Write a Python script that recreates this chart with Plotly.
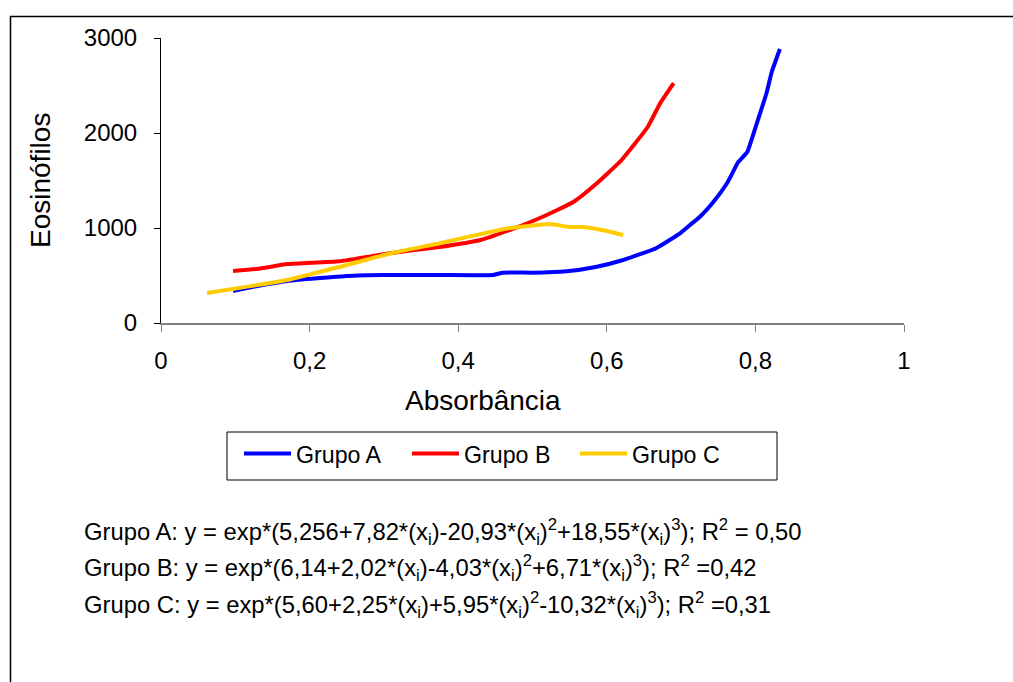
import plotly.graph_objects as go

# ---- data ----
a_x = [0.097, 0.13, 0.17, 0.21, 0.264, 0.30, 0.375, 0.447, 0.46, 0.50, 0.546, 0.585,
       0.622, 0.667, 0.699, 0.712, 0.725, 0.745, 0.762, 0.777, 0.789, 0.802, 0.815, 0.822, 0.833]
a_y = [337, 390, 442, 470, 500, 505, 505, 505, 530, 530, 545, 590,
       663, 790, 947, 1032, 1116, 1290, 1474, 1695, 1800, 2105, 2421, 2642, 2884]

b_x = [0.097, 0.13, 0.17, 0.24, 0.308, 0.375, 0.43, 0.47, 0.51, 0.555, 0.587, 0.62, 0.655, 0.672, 0.69]
b_y = [547, 570, 620, 650, 735, 800, 874, 980, 1105, 1274, 1474, 1716, 2063, 2316, 2526]

c_x = [0.062, 0.17, 0.24, 0.31, 0.375, 0.443, 0.47, 0.524, 0.55, 0.568, 0.60, 0.622]
c_y = [316, 453, 590, 735, 840, 958, 1000, 1042, 1010, 1010, 968, 926]

series_names = ["Grupo A", "Grupo B", "Grupo C"]
series_colors = ["#0000FF", "#FF0000", "#FFCC00"]

x_tickvals = [0, 0.2, 0.4, 0.6, 0.8, 1]
x_ticktext = ["0", "0,2", "0,4", "0,6", "0,8", "1"]
y_tickvals = [0, 1000, 2000, 3000]
y_ticktext = ["0", "1000", "2000", "3000"]

equations = [
    "Grupo A: y = exp*(5,256+7,82*(x<sub>i</sub>)-20,93*(x<sub>i</sub>)<sup>2</sup>+18,55*(x<sub>i</sub>)<sup>3</sup>); R<sup>2</sup> = 0,50",
    "Grupo B: y = exp*(6,14+2,02*(x<sub>i</sub>)-4,03*(x<sub>i</sub>)<sup>2</sup>+6,71*(x<sub>i</sub>)<sup>3</sup>); R<sup>2</sup> =0,42",
    "Grupo C: y = exp*(5,60+2,25*(x<sub>i</sub>)+5,95*(x<sub>i</sub>)<sup>2</sup>-10,32*(x<sub>i</sub>)<sup>3</sup>); R<sup>2</sup> =0,31",
]

FONT = "Arial, Liberation Sans, sans-serif"
W, H = 1013, 682
L, R, T, B = 161, 904, 38, 323  # plot area in pixels


def px_x(p):
    return (p - L) / (R - L)


def px_y(p):
    return (B - p) / (B - T)


fig = go.Figure()
for xs, ys, name, col in zip([a_x, b_x, c_x], [a_y, b_y, c_y], series_names, series_colors):
    fig.add_trace(go.Scatter(x=xs, y=ys, mode="lines", name=name,
                             line=dict(color=col, width=4, shape="spline", smoothing=0.4)))

annotations = [
    dict(text="Absorbância", x=px_x(483), y=px_y(400), xref="paper", yref="paper",
         showarrow=False, font=dict(size=28, family=FONT, color="black"),
         xanchor="center", yanchor="middle"),
    dict(text="Eosinófilos", x=px_x(40), y=px_y(180), xref="paper", yref="paper",
         showarrow=False, textangle=-90, font=dict(size=28, family=FONT, color="black"),
         xanchor="center", yanchor="middle"),
]
for i, eq in enumerate(equations):
    annotations.append(dict(text=eq, x=px_x(82), y=px_y(532 + i * 36.3), xref="paper", yref="paper",
                            showarrow=False, font=dict(size=23.8, family=FONT, color="black"),
                            xanchor="left", yanchor="middle"))

fig.update_layout(
    width=W, height=H,
    margin=dict(l=L, r=W - R, t=T, b=H - B, pad=0),
    paper_bgcolor="white", plot_bgcolor="white",
    font=dict(family=FONT, color="black"),
    xaxis=dict(range=[0, 1], tickvals=x_tickvals, ticktext=x_ticktext,
               showgrid=False, zeroline=False, showline=True, linecolor="#808080", linewidth=1.5,
               ticks="outside", ticklen=7, tickcolor="#808080", tickwidth=1,
               tickfont=dict(size=24, family=FONT, color="black"), ticklabelstandoff=8),
    yaxis=dict(range=[0, 3000], tickvals=y_tickvals, ticktext=y_ticktext,
               showgrid=False, zeroline=False, showline=True, linecolor="black", linewidth=1,
               ticks="outside", ticklen=6, tickcolor="black", tickwidth=1,
               tickfont=dict(size=24, family=FONT, color="black"), ticklabelstandoff=12),
    legend=dict(orientation="h", x=px_x(239), y=px_y(432), xanchor="left", yanchor="top",
                borderwidth=0, bgcolor="rgba(0,0,0,0)",
                font=dict(size=23.2, family=FONT, color="black"),
                entrywidth=106, entrywidthmode="pixels", itemwidth=47,
                traceorder="normal"),
    annotations=annotations,
    shapes=[
        dict(type="rect", xref="paper", yref="paper",
             x0=px_x(10.5), x1=px_x(1030), y0=px_y(700), y1=px_y(16.5),
             line=dict(color="black", width=1.5), fillcolor="rgba(0,0,0,0)", layer="below"),
        dict(type="rect", xref="paper", yref="paper",
             x0=px_x(227), x1=px_x(777), y0=px_y(480), y1=px_y(432),
             line=dict(color="black", width=1), fillcolor="rgba(0,0,0,0)", layer="below"),
    ],
    showlegend=True,
)

fig.write_html("out.html")
